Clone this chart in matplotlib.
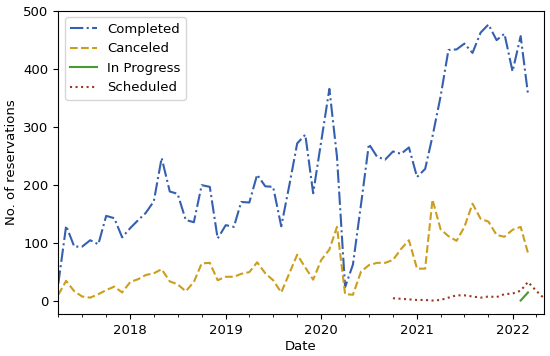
import pandas as pd
import matplotlib
matplotlib.use("Agg")
import matplotlib.pyplot as plt
import matplotlib.dates as mdates

plt.rcParams["font.size"] = 9.5

# monthly counts, first month 2017-04
start = "2017-04-01"
completed = [30, 130, 94, 94, 105, 98, 147, 143, 110, 126, 140, 152,
             172, 247, 189, 185, 140, 136, 200, 197, 108, 131, 128, 171,
             170, 218, 198, 197, 129, 200, 272, 287, 186, 276, 366, 249,
             24, 63, 167, 271, 249, 244, 258, 254, 265, 214, 228, 284,
             353, 433, 434, 444, 428, 463, 477, 450, 461, 396, 457, 357]
canceled = [11, 35, 17, 8, 6, 12, 19, 25, 15, 33, 38, 45,
            48, 55, 34, 29, 17, 33, 65, 66, 36, 42, 42, 47,
            50, 67, 48, 36, 15, 48, 80, 58, 37, 71, 89, 128,
            12, 11, 51, 62, 66, 66, 71, 90, 105, 56, 56, 175,
            124, 112, 104, 128, 168, 142, 137, 114, 111, 123, 128, 83]
# in progress starts 2022-02, scheduled starts 2020-10
in_progress = [1, 15]
scheduled = [5, 4, 3, 2, 2, 1, 2, 6, 10, 10, 8, 6,
             8, 7, 12, 13, 18, 33, 18, 5]

dates = pd.date_range(start, periods=62, freq="MS")

fig = plt.figure(figsize=(5.5, 3.56), dpi=100)
ax = fig.add_axes([0.106, 0.117, 0.883, 0.853])

ax.plot(dates[:len(completed)], completed, ls="-.", color="#3560b0", lw=1.5, label="Completed")
ax.plot(dates[:len(canceled)], canceled, ls="--", color="#cc9e1e", lw=1.5, label="Canceled")
ax.plot(dates[58:58 + len(in_progress)], in_progress, ls="-", color="#4a9a34", lw=1.5, label="In Progress")
ax.plot(dates[42:42 + len(scheduled)], scheduled, ls=":", color="#9b3a22", lw=1.5, label="Scheduled")

ax.set_xlim(dates[0], dates[-1])
ax.xaxis.set_major_locator(mdates.YearLocator())
ax.xaxis.set_major_formatter(mdates.DateFormatter("%Y"))
ax.xaxis.set_minor_locator(mdates.MonthLocator(bymonth=[1, 4, 7, 10]))

ax.set_xlabel("Date", labelpad=2)
ax.set_ylabel("No. of reservations")
ax.legend(loc="upper left")

fig.savefig("out.png")
